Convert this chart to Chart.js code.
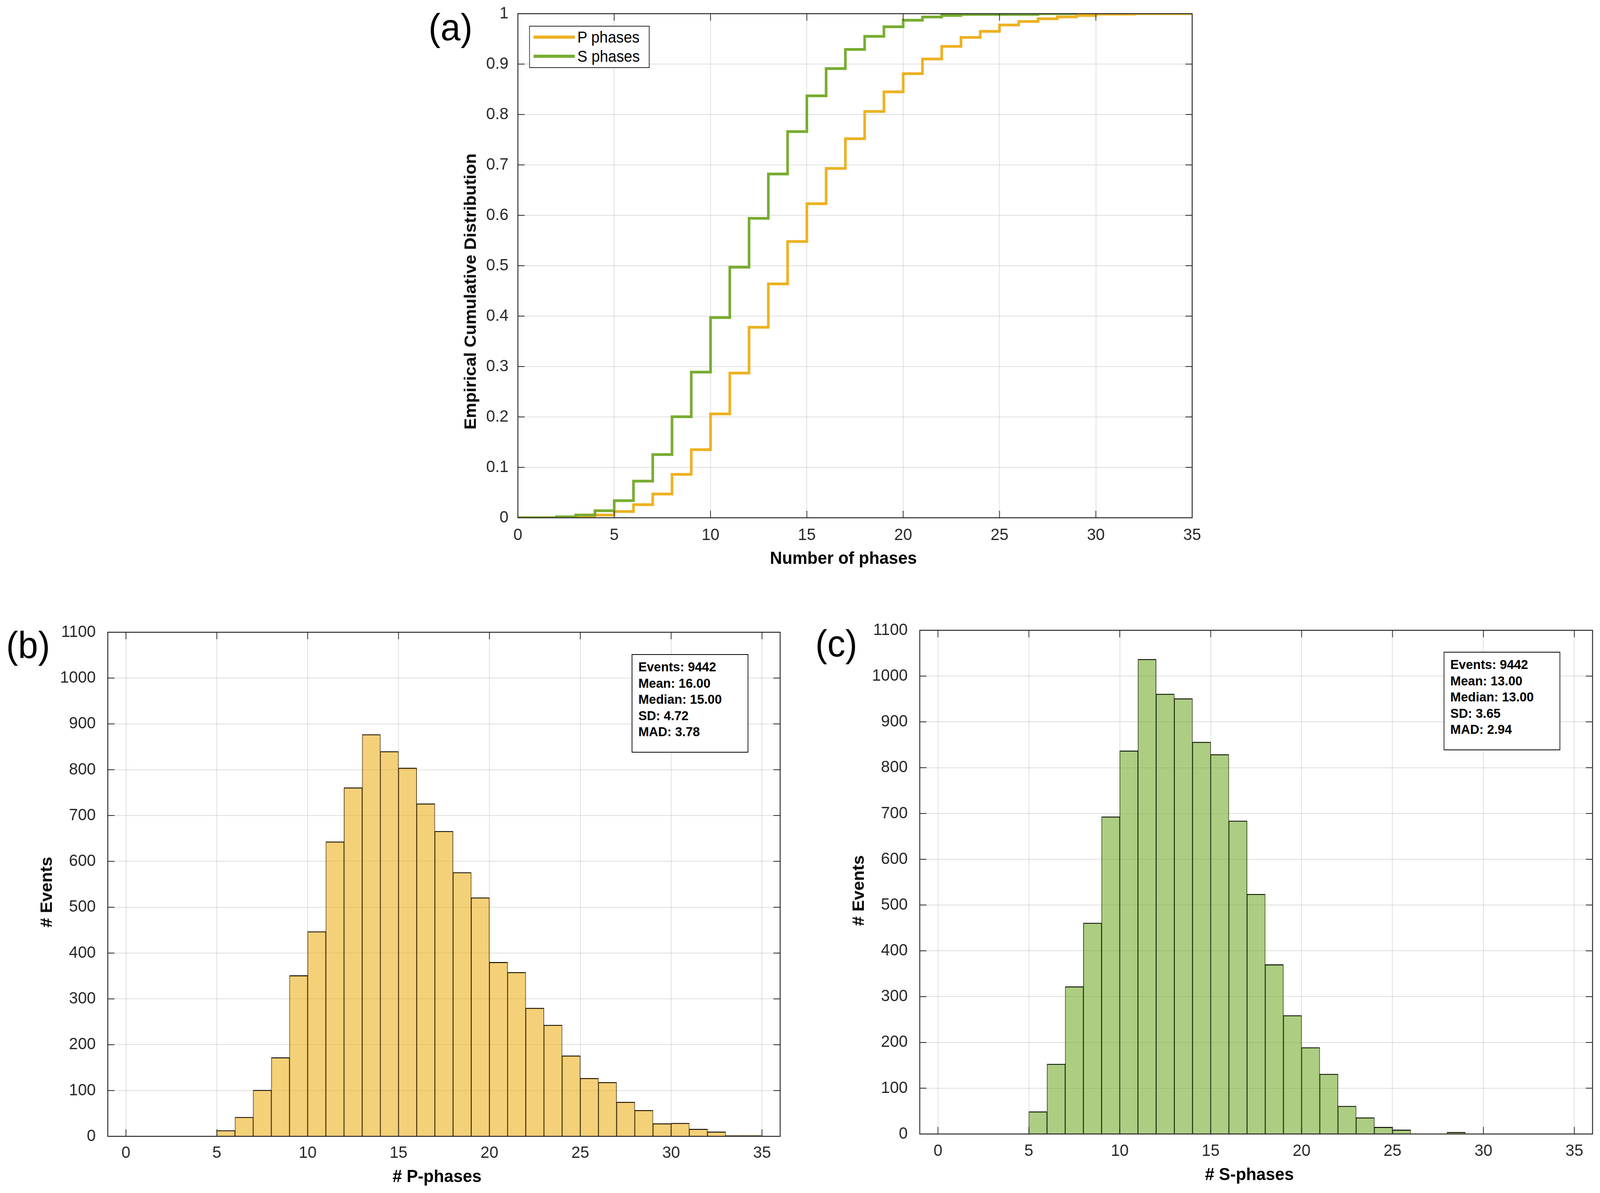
<!DOCTYPE html>
<html>
<head>
<meta charset="utf-8">
<title>Number of phases per event</title>
<script src="https://cdn.jsdelivr.net/npm/chart.js"></script>
<style>
    html, body {
        margin: 0;
        background: #fff;
        overflow: hidden;
    }

    #page {
        position: relative;
        width: 4276px;
        height: 3053px;
        overflow: hidden;
        transform-origin: 0 0;
        font-family: "Liberation Sans", Arial, Helvetica, sans-serif;
        color: #000;
    }

    #page canvas {
        position: absolute;
    }

    .txt {
        position: absolute;
        white-space: nowrap;
        line-height: 1;
    }

    .box {
        position: absolute;
        box-sizing: border-box;
        background: #fff;
    }

    .stats {
        border: 2px solid #000;
        padding: 10px 0 0 16px;
        font-weight: bold;
        font-size: 34px;
        line-height: 41.5px;
    }
</style>
</head>
<body>
<div id="page">
    <canvas id="cdfChart" width="2200" height="1500" style="left:1100px; top:0px;"></canvas>
    <canvas id="histP" width="2140" height="1503" style="left:0px; top:1550px;"></canvas>
    <canvas id="histS" width="2136" height="1503" style="left:2140px; top:1550px;"></canvas>
</div>

<script>
    // tick values
    const phaseTicks = [0, 5, 10, 15, 20, 25, 30, 35];
    const cdfTicks = [0, 0.1, 0.2, 0.3, 0.4, 0.5, 0.6, 0.7, 0.8, 0.9, 1];
    const countTicks = [0, 100, 200, 300, 400, 500, 600, 700, 800, 900, 1000, 1100];

    // (a) empirical CDF, each value held from x to x+1
    const cdfXP = [0, 1, 2, 3, 4, 5, 6, 7, 8, 9, 10, 11, 12, 13, 14, 15, 16, 17,
                   18, 19, 20, 21, 22, 23, 24, 25, 26, 27, 28, 29, 30, 31, 32, 33, 34, 35];
    const cdfP = [0, 0, 0, 0.0008, 0.0026, 0.0054, 0.0124, 0.026, 0.047, 0.086, 0.135, 0.206,
                  0.287, 0.378, 0.464, 0.548, 0.623, 0.693, 0.752, 0.806, 0.845, 0.881, 0.910,
                  0.935, 0.953, 0.965, 0.9775, 0.9845, 0.990, 0.9936, 0.9966, 0.999, 0.999,
                  1, 1, 1];
    const cdfXS = [0, 1, 2, 3, 4, 5, 6, 7, 8, 9, 10, 11, 12, 13, 14, 15, 16, 17,
                   18, 19, 20, 21, 22, 23, 24, 25, 26, 27, 28, 29];
    const cdfS = [0, 0, 0, 0.002, 0.0054, 0.014, 0.034, 0.0726, 0.1254, 0.2003, 0.289, 0.397,
                  0.497, 0.594, 0.682, 0.766, 0.837, 0.891, 0.929, 0.955, 0.974, 0.987, 0.9935,
                  0.9966, 0.9985, 0.9985, 0.9985, 0.9985, 1, 1];

    // (b), (c) histograms, bins of width 1
    const binCenters = [0.5, 1.5, 2.5, 3.5, 4.5, 5.5, 6.5, 7.5, 8.5, 9.5, 10.5, 11.5, 12.5,
                        13.5, 14.5, 15.5, 16.5, 17.5, 18.5, 19.5, 20.5, 21.5, 22.5, 23.5, 24.5,
                        25.5, 26.5, 27.5, 28.5, 29.5, 30.5, 31.5, 32.5, 33.5, 34.5];
    const pCounts = [0, 0, 0, 0, 0, 13, 42, 101, 172, 351, 447, 643, 761, 877, 840, 804, 726,
                     666, 576, 521, 380, 358, 280, 243, 176, 127, 118, 75, 57, 28, 29, 16, 10, 2, 2];
    const sCounts = [0, 0, 0, 0, 0, 49, 153, 322, 461, 693, 837, 1037, 961, 951, 856, 829, 684,
                     524, 370, 259, 189, 131, 61, 36, 15, 9, 0, 0, 4, 0, 0, 0, 0, 0, 0];

    const statsP = ['Events: 9442', 'Mean: 16.00', 'Median: 15.00', 'SD: 4.72', 'MAD: 3.78'];
    const statsS = ['Events: 9442', 'Mean: 13.00', 'Median: 13.00', 'SD: 3.65', 'MAD: 2.94'];

    const orange = '#EDB120';
    const green = '#77AC30';
    const axisColor = '#262626';
    const gridColor = 'rgba(38, 38, 38, 0.15)';
    const fontFamily = '"Liberation Sans", Arial, Helvetica, sans-serif';
    const tickFont = { family: fontFamily, size: 43 };

    // the figure is laid out at 4276 px wide; squeeze it into a narrower window
    const page = document.getElementById('page');
    if (window.innerWidth < 4276) {
        page.style.transform = 'scale(' + (window.innerWidth / 4276) + ', 1)';
    }

    // box round the plot and inward tick marks on all four sides
    const matlabBox = {
        id: 'matlabBox',
        afterDraw(chart) {
            const { ctx, chartArea: a, scales: { x, y } } = chart;
            const len = 18;
            ctx.save();
            ctx.strokeStyle = axisColor;
            ctx.lineWidth = 2;
            ctx.beginPath();
            x.ticks.forEach(t => {
                const px = x.getPixelForValue(t.value);
                ctx.moveTo(px, a.bottom); ctx.lineTo(px, a.bottom - len);
                ctx.moveTo(px, a.top); ctx.lineTo(px, a.top + len);
            });
            y.ticks.forEach(t => {
                const py = y.getPixelForValue(t.value);
                ctx.moveTo(a.left, py); ctx.lineTo(a.left + len, py);
                ctx.moveTo(a.right, py); ctx.lineTo(a.right - len, py);
            });
            ctx.stroke();
            ctx.lineWidth = 2.5;
            ctx.strokeRect(a.left, a.top, a.right - a.left, a.bottom - a.top);
            ctx.restore();
        }
    };

    function axes(c) {
        return {
            x: {
                type: 'linear', min: c.xMin, max: c.xMax, offset: false,
                afterBuildTicks: s => { s.ticks = c.xTicks.map(v => ({ value: v })); },
                afterFit: s => { s.height = c.xHeight; s.paddingLeft = 0; s.paddingRight = 0; },
                grid: { color: gridColor, lineWidth: 2, drawTicks: false, offset: false },
                border: { display: false },
                ticks: { color: axisColor, font: tickFont, padding: c.xPad, maxRotation: 0,
                         autoSkip: false, callback: v => String(v) }
            },
            y: {
                type: 'linear', min: c.yMin, max: c.yMax,
                afterBuildTicks: s => { s.ticks = c.yTicks.map(v => ({ value: v })); },
                afterFit: s => { s.width = c.yWidth; s.paddingTop = 0; s.paddingBottom = 0; },
                grid: { color: gridColor, lineWidth: 2, drawTicks: false },
                border: { display: false },
                ticks: { color: axisColor, font: tickFont, padding: c.yPad,
                         autoSkip: false, callback: v => String(v) }
            }
        };
    }

    function baseOptions(c) {
        return {
            responsive: false,
            animation: false,
            layout: { padding: { top: c.top, right: c.right, left: 0, bottom: 0 } },
            plugins: { legend: { display: false }, tooltip: { enabled: false } },
            scales: axes(c)
        };
    }

    // (a) CDF
    const cdfChart = new Chart(document.getElementById('cdfChart'), {
        type: 'line',
        data: {
            datasets: [{
                label: 'P phases',
                data: cdfXP.map((x, i) => ({ x: x, y: cdfP[i] })),
                borderColor: orange,
                borderWidth: 7,
                stepped: 'after',
                pointRadius: 0,
                fill: false,
                order: 1
            }, {
                label: 'S phases',
                data: cdfXS.map((x, i) => ({ x: x, y: cdfS[i] })),
                borderColor: green,
                borderWidth: 7,
                stepped: 'after',
                pointRadius: 0,
                fill: false,
                order: 0
            }]
        },
        options: baseOptions({ xMin: 0, xMax: 35, yMin: 0, yMax: 1, xTicks: phaseTicks, yTicks: cdfTicks,
                               xHeight: 175, yWidth: 284, xPad: 19, yPad: 25, top: 35, right: 114 }),
        plugins: [matlabBox]
    });

    function histogram(id, counts, fill, c) {
        return new Chart(document.getElementById(id), {
            type: 'bar',
            data: {
                datasets: [{
                    data: binCenters.map((x, i) => ({ x: x, y: counts[i] })),
                    backgroundColor: fill,
                    borderColor: '#000',
                    borderWidth: { top: 2, left: 1, right: 1, bottom: 0 },
                    barPercentage: 1,
                    categoryPercentage: 1
                }]
            },
            options: baseOptions(c),
            plugins: [matlabBox]
        });
    }

    histogram('histP', pCounts, 'rgba(237, 177, 32, 0.6)',
              { xMin: -1, xMax: 36, yMin: 0, yMax: 1100, xTicks: phaseTicks, yTicks: countTicks,
                xHeight: 145, yWidth: 288, xPad: 17, yPad: 32, top: 68, right: 55 });
    histogram('histS', sCounts, 'rgba(119, 172, 48, 0.6)',
              { xMin: -1, xMax: 36, yMin: 0, yMax: 1100, xTicks: phaseTicks, yTicks: countTicks,
                xHeight: 151, yWidth: 318, xPad: 18, yPad: 32, top: 63, right: 20 });

    // text placed by its centre
    function addText(text, cx, cy, size, weight, rotate) {
        const d = document.createElement('div');
        d.className = 'txt';
        d.textContent = text;
        d.style.left = cx + 'px';
        d.style.top = cy + 'px';
        d.style.fontSize = size + 'px';
        d.style.fontWeight = weight;
        d.style.transform = 'translate(-50%, -50%)' + (rotate ? ' rotate(-90deg)' : '');
        page.appendChild(d);
        return d;
    }

    addText('(a)', 1204, 70, 96, 'normal');
    addText('(b)', 75, 1651, 96, 'normal');
    addText('(c)', 2235, 1647, 96, 'normal');

    addText('Empirical Cumulative Distribution', 1257, 746, 44, 'bold', true);
    addText('Number of phases', 2254, 1427, 45, 'bold');
    addText('# Events', 124, 2283, 44, 'bold', true);
    addText('# P-phases', 1168, 3009, 45, 'bold');
    addText('# Events', 2294, 2279, 44, 'bold', true);
    addText('# S-phases', 3339, 3004, 45, 'bold');

    // legend of (a), built from the datasets
    const legend = document.createElement('div');
    legend.className = 'box';
    Object.assign(legend.style, { left: '1414px', top: '66px', width: '322px', height: '108px',
                                  border: '2px solid ' + axisColor });
    page.appendChild(legend);
    cdfChart.data.datasets.forEach((ds, i) => {
        const cy = 95 + i * 49;
        const line = document.createElement('div');
        Object.assign(line.style, { position: 'absolute', left: '1426px', top: (cy - 4) + 'px',
                                    width: '110px', height: '8px', background: ds.borderColor });
        page.appendChild(line);
        const t = addText(ds.label, 1543, cy, 40, 'normal');
        t.style.transform = 'translate(0, -50%)';
    });

    // statistics boxes
    function statsBox(lines, left, top) {
        const b = document.createElement('div');
        b.className = 'box stats';
        Object.assign(b.style, { left: left + 'px', top: top + 'px', width: '312px', height: '252px' });
        lines.forEach(s => {
            const l = document.createElement('div');
            l.textContent = s;
            b.appendChild(l);
        });
        page.appendChild(b);
    }
    statsBox(statsP, 1688, 1674);
    statsBox(statsS, 3858, 1668);
</script>
</body>
</html>
